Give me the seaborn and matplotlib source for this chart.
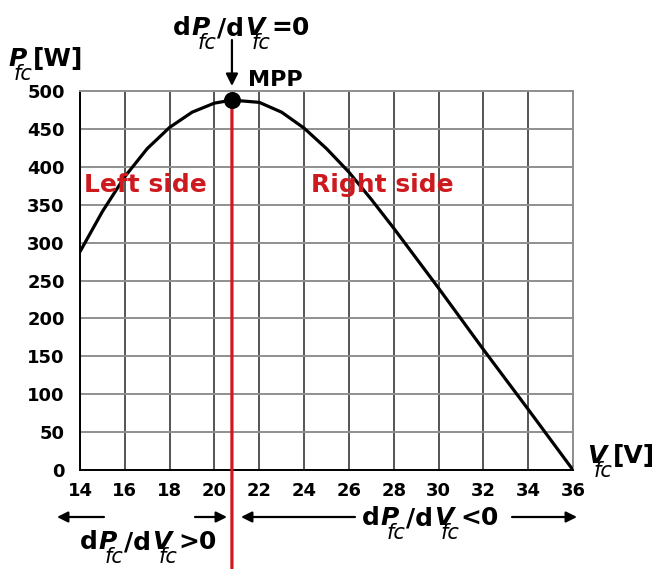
import matplotlib
matplotlib.use("Agg")
import matplotlib.pyplot as plt
from matplotlib.patches import FancyArrowPatch
import pandas as pd
import seaborn as sns

# Fuel-cell power vs. voltage characteristic
voltage = [14, 15, 16, 17, 18, 19, 20, 20.78, 22, 23, 24, 25, 26, 27, 28, 30, 32, 34, 36]
power = [288, 341, 387, 424, 452, 472, 484, 488, 485, 472, 451, 424, 393, 357, 319, 240, 159, 80, 0]

# Maximum power point
v_mpp = 20.78
p_mpp = 488

x_ticks = list(range(14, 37, 2))
y_ticks = list(range(0, 501, 50))

RED = "#cc1a1f"
W, H = 659, 569
MAIN, SUB = 18, 15

sns.set_theme(style="white")
plt.rcParams["font.family"] = ["DejaVu Sans"]
plt.rcParams["font.weight"] = "bold"
plt.rcParams["text.color"] = "black"

df = pd.DataFrame({"V": voltage, "P": power})

fig = plt.figure(figsize=(W / 100, H / 100), dpi=100)
ax = fig.add_axes([80 / W, 1 - 470 / H, (573 - 80) / W, (470 - 91) / H])


def fp(x, y):
    """Pixel position (from top-left) to figure fraction."""
    return (x / W, 1 - y / H)


def formula(x_px, base_px, parts):
    """Write a run of text pieces left to right on a common baseline.

    kind: 'b' bold, 'bi' bold italic, 's' italic subscript tucked under
    the preceding letter.
    """
    yb = 1 - base_px / H
    prev = None
    for text, kind in parts:
        style = dict(fontsize=MAIN, fontweight="bold", fontstyle="normal")
        dx, dy = 1, 0
        if kind == "bi":
            style["fontstyle"] = "italic"
        elif kind == "s":
            style = dict(fontsize=SUB, fontweight="normal", fontstyle="italic")
            dx, dy = -13, -14
        elif prev is not None and prev[1] == "s":
            dx = 1
        if prev is None:
            art = fig.text(x_px / W, yb, text, ha="left", va="baseline",
                           color="black", **style)
        else:
            art = ax.annotate(text, xy=(1, yb), xycoords=(prev[0], "figure fraction"),
                              xytext=(dx, dy), textcoords="offset pixels",
                              ha="left", va="baseline", color="black",
                              annotation_clip=False, **style)
        prev = (art, kind)


sns.lineplot(data=df, x="V", y="P", color="black", lw=2.3, ax=ax, zorder=3)

# Vertical divider through the MPP, running down past the axis
ax.annotate("", xy=(v_mpp, 0), xycoords=("data", "figure fraction"),
            xytext=(v_mpp, p_mpp), textcoords="data",
            arrowprops=dict(arrowstyle="-", color=RED, lw=2.3,
                            shrinkA=0, shrinkB=0), zorder=4,
            annotation_clip=False)

sns.scatterplot(x=[v_mpp], y=[p_mpp], color="black", s=150, ax=ax,
                zorder=6, edgecolor="black", linewidth=0, clip_on=False)

ax.set_xlim(14, 36)
ax.set_ylim(0, 500)
ax.set_xticks(x_ticks)
ax.set_yticks(y_ticks)
ax.set_xlabel("")
ax.set_ylabel("")

ax.xaxis.grid(True, color="#262626", lw=1.1)
ax.yaxis.grid(True, color="#8f8f8f", lw=1.4)
ax.set_axisbelow(True)
for side in ("left", "bottom"):
    ax.spines[side].set_color("black")
    ax.spines[side].set_linewidth(1.4)
for side in ("top", "right"):
    ax.spines[side].set_color("#8f8f8f")
    ax.spines[side].set_linewidth(1.4)

ax.tick_params(axis="both", direction="out", length=6, width=1.3,
               color="black", labelsize=13, labelcolor="black")
ax.tick_params(axis="y", pad=5)
ax.tick_params(axis="x", pad=3)
for lbl in ax.get_xticklabels() + ax.get_yticklabels():
    lbl.set_fontweight("bold")

# Axis titles
formula(8, 66, [("P", "bi"), ("fc", "s"), ("[W]", "b")])
formula(587, 463, [("V", "bi"), ("fc", "s"), ("[V]", "b")])

# Region labels
ax.text(16.9, 376, "Left side", color=RED, fontsize=18, fontweight="bold",
        ha="center", va="center")
ax.text(27.5, 376, "Right side", color=RED, fontsize=18, fontweight="bold",
        ha="center", va="center")

# MPP annotation with the zero-slope condition
formula(173, 35, [("d", "b"), ("P", "bi"), ("fc", "s"), ("/d", "b"),
                  ("V", "bi"), ("fc", "s"), ("=0", "b")])
ax.annotate("", xy=(v_mpp, 1 - 86 / H), xycoords=("data", "figure fraction"),
            xytext=(v_mpp, 1 - 40 / H), textcoords=("data", "figure fraction"),
            arrowprops=dict(arrowstyle="-|>", color="black", lw=1.6,
                            mutation_scale=18, shrinkA=0, shrinkB=0),
            annotation_clip=False)
fig.text(*fp(248, 80), "MPP", fontsize=16, fontweight="bold",
         ha="left", va="center", color="black")

# Slope direction arrows below the axis
arrow_kw = dict(arrowstyle="-|>", color="black", lw=1.6, mutation_scale=16,
                shrinkA=0, shrinkB=0)
for tail, head in [(104, 57), (195, 227), (355, 241), (512, 577)]:
    fig.add_artist(FancyArrowPatch(fp(tail, 517), fp(head, 517),
                                   transform=fig.transFigure, **arrow_kw))

formula(362, 525, [("d", "b"), ("P", "bi"), ("fc", "s"), ("/d", "b"),
                   ("V", "bi"), ("fc", "s"), ("<0", "b")])
formula(80, 549, [("d", "b"), ("P", "bi"), ("fc", "s"), ("/d", "b"),
                  ("V", "bi"), ("fc", "s"), (">0", "b")])

fig.savefig("out.png", dpi=100)
